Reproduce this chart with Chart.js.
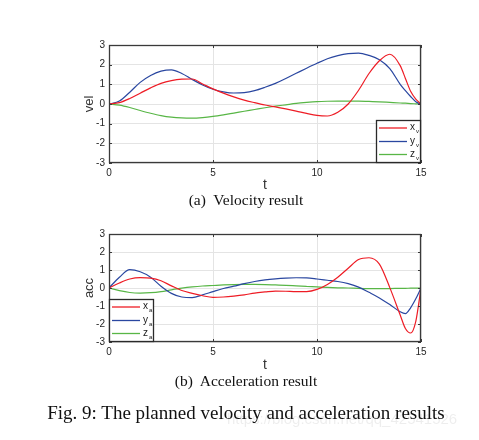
<!DOCTYPE html>
<html><head><meta charset="utf-8">
<script src="https://cdn.jsdelivr.net/npm/chart.js@4/dist/chart.umd.min.js"></script>
<style>
body{margin:0;background:#fff;width:479px;height:440px;position:relative;overflow:hidden;}
canvas{position:absolute;left:0;}
.cap{position:absolute;left:0;width:492px;text-align:center;font-family:"Liberation Serif","DejaVu Serif",serif;color:#111;white-space:nowrap;line-height:1.15;}
.wm{position:absolute;left:227px;top:410px;font-family:"Liberation Sans",sans-serif;font-size:15px;color:rgba(0,0,0,0.07);white-space:nowrap;}
</style></head><body>
<canvas id="c1" width="479" height="200" style="top:0px"></canvas>
<canvas id="c2" width="479" height="200" style="top:200px"></canvas>
<div class="cap" style="top:191px;font-size:15.5px">(a)&nbsp; Velocity result</div>
<div class="cap" style="top:372px;font-size:15.5px">(b)&nbsp; Acceleration result</div>
<div class="cap" style="top:402px;font-size:19px">Fig. 9: The planned velocity and acceleration results</div>
<div class="wm">https://blog.csdn.net/qq_42541526</div>
<script>
// ---- data ----
const t  = [0,0.5,1,1.5,2,2.5,3,3.5,4,4.5,5,5.5,6,6.5,7,7.5,8,8.5,9,9.5,10,10.5,11,11.5,12,12.5,13,13.5,14,14.25,14.5,14.75,15];
const xv = [0,0.07,0.28,0.55,0.82,1.05,1.19,1.26,1.27,1.02,0.77,0.55,0.36,0.2,0.07,-0.05,-0.15,-0.25,-0.36,-0.48,-0.58,-0.61,-0.42,0.0,0.7,1.55,2.2,2.53,1.95,1.3,0.65,0.25,0];
const yv = [0,0.15,0.6,1.1,1.45,1.67,1.74,1.55,1.25,0.97,0.75,0.62,0.56,0.58,0.68,0.85,1.05,1.3,1.56,1.82,2.07,2.3,2.46,2.56,2.59,2.47,2.25,1.8,1.0,0.68,0.38,0.12,0];
const zv = [0,-0.06,-0.18,-0.33,-0.47,-0.59,-0.67,-0.71,-0.72,-0.69,-0.63,-0.55,-0.46,-0.37,-0.28,-0.19,-0.11,-0.04,0.03,0.08,0.12,0.14,0.15,0.15,0.15,0.13,0.11,0.08,0.05,0.04,0.02,0.01,0];
const xa = [0,0.28,0.5,0.58,0.55,0.4,0.12,-0.14,-0.3,-0.43,-0.52,-0.5,-0.45,-0.38,-0.28,-0.22,-0.17,-0.18,-0.2,-0.2,-0.08,0.2,0.6,1.1,1.58,1.68,1.33,0.02,-1.5,-2.25,-2.5,-1.85,0];
const ya = [0,0.6,1.02,0.9,0.6,0.1,-0.3,-0.5,-0.53,-0.38,-0.2,-0.03,0.1,0.24,0.36,0.45,0.51,0.55,0.57,0.56,0.5,0.43,0.36,0.24,0.05,-0.24,-0.55,-0.92,-1.32,-1.42,-1.1,-0.6,0];
const za = [0,-0.15,-0.25,-0.28,-0.26,-0.2,-0.1,-0.01,0.06,0.11,0.14,0.17,0.19,0.2,0.2,0.19,0.17,0.15,0.12,0.09,0.06,0.03,0.01,0.0,-0.02,-0.03,-0.03,-0.03,-0.02,-0.02,-0.01,-0.01,0];
const xTicks = [0,5,10,15];
const yTicks = [-3,-2,-1,0,1,2,3];
const seriesNames = ['x','y','z'];
const colors = ['#ee1c25','#2a47a0','#58b646'];

const frame = {
  id:'frame',
  afterDatasetsDraw(chart, args, opts){
    const {ctx, chartArea:a, scales} = chart;
    ctx.save();
    ctx.strokeStyle = '#3a3a3a'; ctx.lineWidth = 1;
    ctx.beginPath();
    xTicks.forEach(v=>{ const x=Math.round(scales.x.getPixelForValue(v))+0.5;
      ctx.moveTo(x,a.bottom); ctx.lineTo(x,a.bottom-3); ctx.moveTo(x,a.top); ctx.lineTo(x,a.top+3);});
    yTicks.forEach(v=>{ const y=Math.round(scales.y.getPixelForValue(v))+0.5;
      ctx.moveTo(a.left,y); ctx.lineTo(a.left+3,y); ctx.moveTo(a.right,y); ctx.lineTo(a.right-3,y);});
    ctx.stroke();
    ctx.lineWidth = 1.3;
    ctx.strokeRect(a.left+0.5, a.top+0.5, a.right-a.left-1, a.bottom-a.top-1);
    // legend
    const w=45, h=43;
    const bx = opts.pos==='br' ? a.right-w : a.left;
    const by = a.bottom-h;
    ctx.fillStyle='#fff'; ctx.fillRect(bx,by,w,h);
    ctx.lineWidth=1.3; ctx.strokeStyle='#2a2a2a';
    ctx.strokeRect(bx+0.5,by+0.5,w-1,h-1);
    const rows=[8,21.5,34.5];
    chart.data.datasets.forEach((ds,i)=>{
      const y=by+rows[i];
      ctx.strokeStyle=ds.borderColor; ctx.lineWidth=1.3;
      ctx.beginPath(); ctx.moveTo(bx+3,y); ctx.lineTo(bx+31,y); ctx.stroke();
      ctx.fillStyle='#1a1a1a'; ctx.textBaseline='alphabetic'; ctx.textAlign='left';
      ctx.font='10px "Liberation Sans", Arial, sans-serif';
      ctx.fillText(seriesNames[i], bx+34, y+2);
      ctx.font='6px "Liberation Sans", Arial, sans-serif';
      ctx.fillText(opts.sub, bx+40, y+5);
    });
    ctx.restore();
  }
};

function makeChart(id, series, ylabel, padTop, xH, titlePadB, pos, sub){
  return new Chart(document.getElementById(id), {
    type:'line',
    data:{ datasets: series.map((s,i)=>({
      label: seriesNames[i]+'_'+sub,
      data: t.map((tt,k)=>({x:tt,y:s[k]})),
      borderColor: colors[i], borderWidth:1.2, pointRadius:0,
      cubicInterpolationMode:'monotone', fill:false
    }))},
    options:{
      responsive:false, animation:false, devicePixelRatio:1,
      layout:{padding:{top:padTop,right:58,left:0,bottom:0}},
      plugins:{legend:{display:false}, tooltip:{enabled:false}, frame:{pos, sub}},
      scales:{
        x:{type:'linear', min:0, max:15,
           afterBuildTicks(s){ s.ticks = xTicks.map(v=>({value:v})); },
           afterFit(s){ s.height = xH; },
           grid:{color:'#e4e4e4', drawTicks:false},
           border:{display:false},
           ticks:{padding:4, color:'#262626', font:{family:'"Liberation Sans", Arial, sans-serif', size:10}},
           title:{display:true, text:'t', color:'#333', padding:{top:0,bottom:titlePadB},
                  font:{family:'"Liberation Sans", Arial, sans-serif', size:14}}},
        y:{min:-3, max:3,
           afterBuildTicks(s){ s.ticks = yTicks.map(v=>({value:v})); },
           afterFit(s){ s.width = 109; },
           grid:{color:'#e4e4e4', drawTicks:false},
           border:{display:false},
           ticks:{padding:4, color:'#262626', font:{family:'"Liberation Sans", Arial, sans-serif', size:10}},
           title:{display:true, text:ylabel, color:'#333', padding:{top:82,bottom:0},
                  font:{family:'"Liberation Sans", Arial, sans-serif', size:13}}}
      }
    },
    plugins:[frame]
  });
}
makeChart('c1', [xv,yv,zv], 'vel', 45, 37, 6.6, 'br', 'v');
makeChart('c2', [xa,ya,za], 'acc', 34, 58, 26, 'bl', 'a');
</script>
</body></html>
